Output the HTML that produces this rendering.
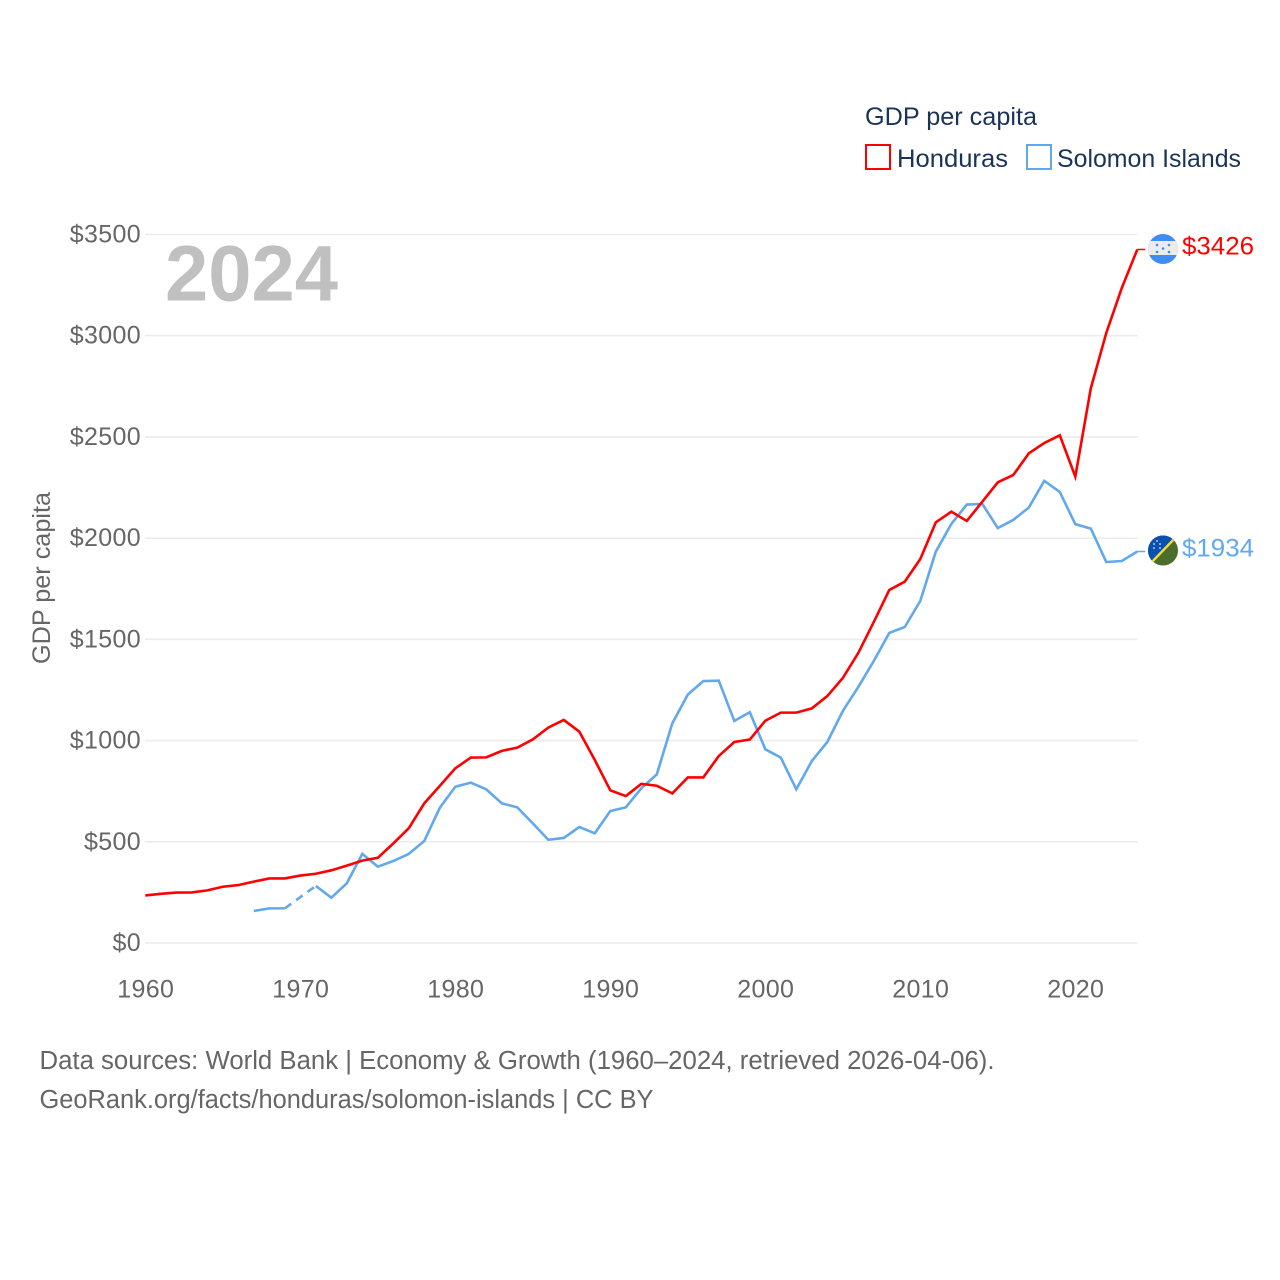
<!DOCTYPE html>
<html lang="en">
<head>
<meta charset="utf-8">
<title>GDP per capita: Honduras vs Solomon Islands</title>
<style>
html,body{margin:0;padding:0;background:#fff;}
svg{display:block;font-family:"Liberation Sans",sans-serif;}
.tick{font-size:25px;fill:#666;}
.ticknum{letter-spacing:0.35px;}
.legend{font-size:25px;fill:#1a3358;}
.foot{font-size:25.5px;fill:#666;}
</style>
</head>
<body>
<svg id="chart" xmlns="http://www.w3.org/2000/svg" width="1280" height="1280" viewBox="0 0 1280 1280">
  <defs>
    <clipPath id="clip-hn"><circle cx="1163" cy="249" r="15"/></clipPath>
    <clipPath id="clip-sb"><circle cx="1163" cy="550.500" r="15"/></clipPath>
  </defs>
  <g id="grid"></g>
  <g id="yticks"></g>
  <g id="xticks"></g>
  <text class="tick" transform="translate(50,578) rotate(-90)" text-anchor="middle" textLength="172" lengthAdjust="spacingAndGlyphs">GDP per capita</text>
  <text x="165" y="300.500" font-size="79" font-weight="700" fill="#c0c0c0" textLength="173" lengthAdjust="spacingAndGlyphs">2024</text>
  <g id="series"></g>

  <g>
    <text class="legend" x="865" y="125" textLength="172" lengthAdjust="spacingAndGlyphs">GDP per capita</text>
    <rect x="866" y="145" width="24" height="24" fill="#fff" stroke="#ff0000" stroke-width="2"/>
    <text class="legend" x="897" y="167" textLength="111" lengthAdjust="spacingAndGlyphs">Honduras</text>
    <rect x="1027" y="145" width="24" height="24" fill="#fff" stroke="#62a8ee" stroke-width="2"/>
    <text class="legend" x="1057" y="167" textLength="184" lengthAdjust="spacingAndGlyphs">Solomon Islands</text>
  </g>

  <g clip-path="url(#clip-hn)">
    <rect x="1148" y="234" width="30" height="30" fill="#3f8cf2"/>
    <rect x="1148" y="241" width="30" height="14" fill="#ececec"/>
    <g fill="#3f8cf2">
      <circle cx="1157" cy="245" r="1.300"/><circle cx="1169" cy="245" r="1.300"/>
      <circle cx="1163" cy="248.500" r="1.300"/>
      <circle cx="1157" cy="252" r="1.300"/><circle cx="1169" cy="252" r="1.300"/>
    </g>
  </g>
  <g clip-path="url(#clip-sb)">
    <rect x="1148" y="535" width="30" height="31" fill="#4b6e2d"/>
    <polygon points="1146,535 1180,535 1146,568" fill="#0a50b0"/>
    <line x1="1148" y1="566" x2="1178" y2="535" stroke="#f2dc3a" stroke-width="2.400"/>
    <g fill="#dfe8f5">
      <circle cx="1157" cy="541" r="0.900"/><circle cx="1160" cy="544" r="0.900"/><circle cx="1154" cy="544" r="0.900"/>
      <circle cx="1154" cy="548" r="0.900"/><circle cx="1160" cy="548" r="0.900"/>
    </g>
  </g>

  <text id="label-hn" x="1182" y="254.500" font-size="25" fill="#ff0000" textLength="72" lengthAdjust="spacingAndGlyphs"></text>
  <text id="label-sb" x="1182" y="556.500" font-size="25" fill="#62a8ee" textLength="72" lengthAdjust="spacingAndGlyphs"></text>

  <g>
    <text class="foot" x="39.500" y="1069" textLength="955" lengthAdjust="spacingAndGlyphs">Data sources: World Bank | Economy &amp; Growth (1960–2024, retrieved 2026-04-06).</text>
    <text class="foot" x="39.500" y="1108" textLength="614" lengthAdjust="spacingAndGlyphs">GeoRank.org/facts/honduras/solomon-islands | CC BY</text>
  </g>
</svg>
<script>
const startYear = 1960;
const yTicks = [0, 500, 1000, 1500, 2000, 2500, 3000, 3500];
const xTicks = [1960, 1970, 1980, 1990, 2000, 2010, 2020];
const hondurasValues = [235,243,249,250,260,278,286,303,319,319,333,342,359,382,407,421,492,567,690,776,863,916,917,949,965,1006,1064,1102,1044,904,754,726,786,777,739,818,818,924,993,1005,1098,1138,1138,1159,1220,1309,1433,1586,1744,1785,1897,2078,2131,2085,2180,2276,2312,2419,2470,2508,2304,2740,3014,3236,3426];
const solomonValues = [null,null,null,null,null,null,null,158,171,171,null,282,224,295,440,377,405,440,504,668,772,792,759,690,670,591,510,519,573,542,652,670,764,833,1085,1227,1294,1296,1097,1140,957,916,759,899,993,1146,1265,1393,1532,1561,1690,1933,2070,2166,2169,2050,2090,2151,2283,2228,2069,2047,1882,1887,1934];

const NS = 'http://www.w3.org/2000/svg';
function xScale(year) { return 145.3 + (year - 1960) * 15.5; }
function yScale(v) { return 943 - v * 0.20243; }

function make(tag, attrs, parent) {
  const el = document.createElementNS(NS, tag);
  for (const k in attrs) el.setAttribute(k, attrs[k]);
  parent.appendChild(el);
  return el;
}

const grid = document.getElementById('grid');
const yG = document.getElementById('yticks');
const xG = document.getElementById('xticks');

yTicks.forEach(function (v) {
  const line = make('line', {x1: 145, x2: 1138, y1: yScale(v), y2: yScale(v), stroke: '#ececec', 'stroke-width': 1.600}, grid);
  
  
  const t = make('text', {x: 141, y: yScale(v) + 8, 'text-anchor': 'end', class: 'tick ticknum'}, yG);
  
  
  t.textContent = '$' + v;
});

xTicks.forEach(function (yr) {
  const t = make('text', {x: xScale(yr) + 0.4, y: 997.500, 'text-anchor': 'middle', class: 'tick ticknum'}, xG);
  
  
  t.textContent = String(yr);
});

function drawSeries(values, color, name) {
  const g = document.getElementById('series');
  let seg = [];
  let prev = null;
  const flush = function () {
    if (seg.length > 1) {
      const p = make('polyline', {points: seg.join(' '), fill: 'none', stroke: color, 'stroke-width': 2.600, 'stroke-linejoin': 'miter'}, g);
      
      
    }
    seg = [];
  };
  values.forEach(function (v, i) {
    const yr = startYear + i;
    if (v === null) { flush(); return; }
    if (prev && yr - prev.yr > 1) {
      const d = make('line', {x1: xScale(prev.yr), y1: yScale(prev.v), x2: xScale(yr), y2: yScale(v), stroke: color, 'stroke-width': 2.600, 'stroke-dasharray': '8 6'}, g);
      
      
    }
    seg.push(xScale(yr) + ',' + yScale(v));
    prev = {yr: yr, v: v};
  });
  flush();
  const stub = make('line', {x1: xScale(prev.yr), y1: yScale(prev.v), x2: xScale(prev.yr) + 8, y2: yScale(prev.v), stroke: color, 'stroke-width': 1.500}, g);
  
  
}

drawSeries(solomonValues, '#62a8ee', 'solomon-islands');
drawSeries(hondurasValues, '#ff0000', 'honduras');

document.getElementById('label-hn').textContent = '$' + hondurasValues[hondurasValues.length - 1];
document.getElementById('label-sb').textContent = '$' + solomonValues[solomonValues.length - 1];
</script>
</body>
</html>
